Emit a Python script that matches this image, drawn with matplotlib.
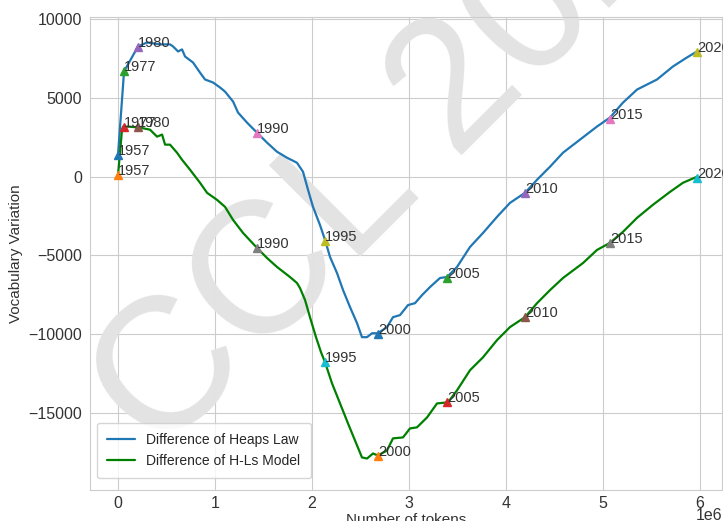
import matplotlib
matplotlib.use("Agg")
import matplotlib.pyplot as plt
import seaborn as sns

# token counts (millions) and vocabulary differences
heaps_x = [0.0, 0.062, 0.206, 0.299, 0.433, 0.536, 0.567, 0.619, 0.660, 0.691,
           0.773, 0.845, 0.897, 0.979, 1.052, 1.103, 1.186, 1.237, 1.330, 1.433,
           1.536, 1.639, 1.742, 1.845, 1.907, 1.959, 2.010, 2.082, 2.134, 2.186,
           2.258, 2.320, 2.392, 2.464, 2.515, 2.567, 2.619, 2.680, 2.773, 2.835,
           2.907, 2.990, 3.062, 3.134, 3.216, 3.320, 3.392, 3.495, 3.629, 3.763,
           3.907, 4.041, 4.196, 4.320, 4.454, 4.588, 4.763, 4.938, 5.072, 5.206,
           5.351, 5.557, 5.722, 5.866, 5.969]
heaps_y = [1400, 6690, 8280, 8530, 8410, 8410, 8280, 7960, 8090, 7640,
           7260, 6620, 6180, 5990, 5670, 5410, 4780, 4080, 3440, 2800,
           2170, 1590, 1210, 890, 320, -830, -1910, -3060, -4010, -5100,
           -6120, -7200, -8280, -9300, -10190, -10190, -9940, -9940, -9550, -8920,
           -8790, -8150, -8030, -7520, -7010, -6430, -6370, -5730, -4460, -3570,
           -2550, -1660, -1020, -190, 640, 1530, 2360, 3190, 3760, 4710,
           5540, 6180, 7010, 7580, 7960]

hls_x = [0.0, 0.041, 0.052, 0.124, 0.227, 0.330, 0.402, 0.454, 0.485, 0.536,
         0.608, 0.660, 0.742, 0.845, 0.918, 1.021, 1.103, 1.186, 1.289, 1.433,
         1.536, 1.639, 1.773, 1.845, 1.876, 1.928, 1.979, 2.041, 2.093, 2.134,
         2.206, 2.289, 2.371, 2.443, 2.515, 2.567, 2.629, 2.680, 2.773, 2.835,
         2.938, 3.010, 3.082, 3.186, 3.289, 3.402, 3.495, 3.629, 3.763, 3.907,
         4.041, 4.196, 4.320, 4.454, 4.588, 4.794, 4.938, 5.072, 5.206, 5.351,
         5.515, 5.691, 5.825, 5.969]
hls_y = [130, 2990, 3180, 3180, 3120, 2990, 2550, 2680, 2040, 2040,
         1530, 1080, 450, -380, -1020, -1470, -1910, -2740, -3570, -4520,
         -5160, -5730, -6370, -6750, -7070, -7830, -8920, -10190, -11150, -11780,
         -13120, -14400, -15670, -16750, -17830, -17900, -17580, -17710, -17390, -16620,
         -16560, -15990, -15920, -15290, -14400, -14330, -13570, -12290, -11470, -10380,
         -9550, -8920, -8030, -7200, -6430, -5480, -4650, -4200, -3500, -2610,
         -1780, -960, -380, 0]

years = [1957, 1977, 1980, 1990, 1995, 2000, 2005, 2010, 2015, 2020]
year_x = [0.0, 0.062, 0.206, 1.433, 2.134, 2.680, 3.392, 4.196, 5.072, 5.969]
year_heaps = [1400, 6690, 8250, 2800, -4050, -10000, -6400, -1020, 3700, 7900]
year_hls = [130, 3180, 3150, -4550, -11750, -17750, -14330, -8920, -4200, -50]

sns.set_style("whitegrid")
plt.rcParams['font.family'] = ['Liberation Sans', 'DejaVu Sans']

fig = plt.figure(figsize=(7.23, 5.21), dpi=100)
ax = fig.add_axes([90 / 723, 31 / 521, 632 / 723, 473 / 521])

M = 1e6
ax.plot([v * M for v in heaps_x], heaps_y, color='#1f77b4', lw=1.6,
        label='Difference of Heaps Law', zorder=3)
ax.plot([v * M for v in hls_x], hls_y, color='green', lw=1.6,
        label='Difference of H-Ls Model', zorder=3)

# year markers, colours taken from the default cycle in turn
for i, yr in enumerate(years):
    ax.plot(year_x[i] * M, year_heaps[i], '^', ms=6, zorder=4)
    ax.text(year_x[i] * M, year_heaps[i], str(yr), fontsize=10.5, color='#333333', zorder=5)
    ax.plot(year_x[i] * M, year_hls[i], '^', ms=6, zorder=4)
    ax.text(year_x[i] * M, year_hls[i], str(yr), fontsize=10.5, color='#333333', zorder=5)

ax.set_xlim(-0.289 * M, 6.227 * M)
ax.set_ylim(-19900, 10150)
ax.set_xticks([0, 1 * M, 2 * M, 3 * M, 4 * M, 5 * M, 6 * M])
ax.set_yticks([-15000, -10000, -5000, 0, 5000, 10000])
ax.tick_params(labelsize=11.5, colors='#333333')
ax.tick_params(axis='x', pad=1)
ax.tick_params(axis='y', pad=2)
ax.xaxis.get_offset_text().set_fontsize(11.5)
ax.xaxis.get_offset_text().set_verticalalignment('center')
ax.set_xlabel('Number of tokens', fontsize=11, color='#333333', labelpad=1)
ax.set_ylabel('Vocabulary Variation', fontsize=11, color='#333333')

ax.legend(loc='lower left', fontsize=10, borderpad=0.75,
          bbox_to_anchor=(0.0, 0.01))

# faint watermark
ax.text(0.522, 0.765, 'CCL 2020', transform=ax.transAxes, rotation=45,
        ha='center', va='center', fontsize=135, color='#e3e3e3', zorder=1)

fig.savefig('out.png', dpi=100)
